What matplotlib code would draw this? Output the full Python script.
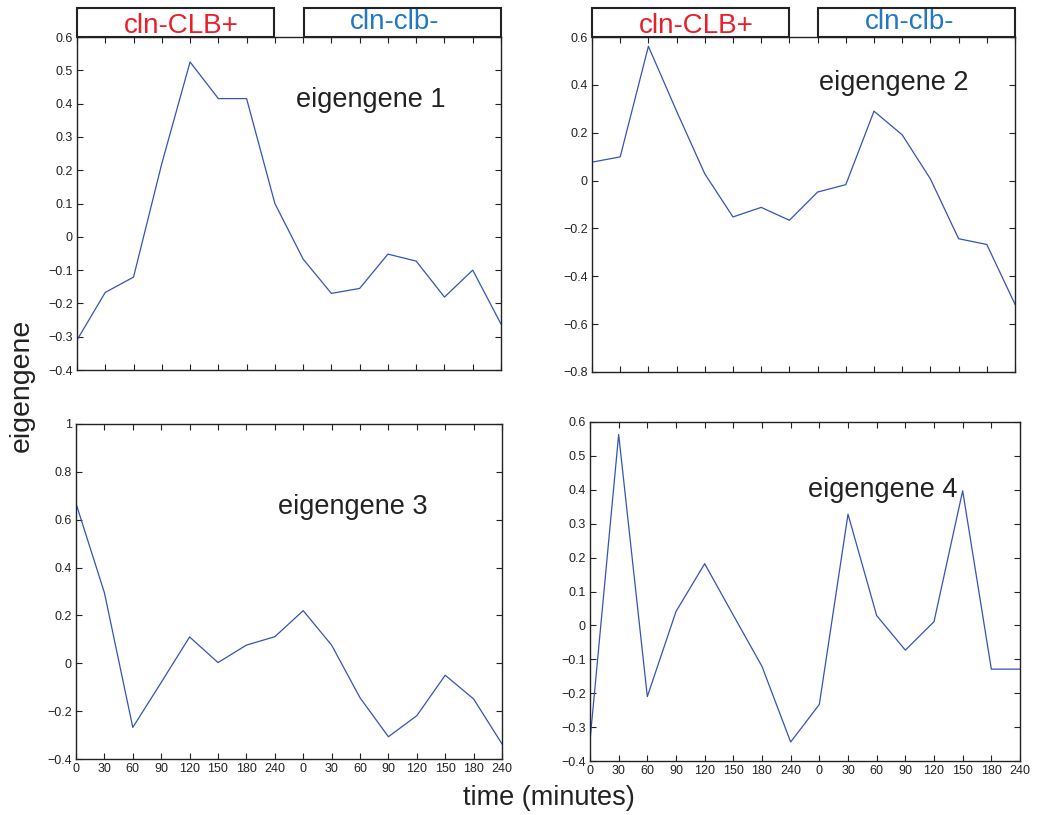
import matplotlib.pyplot as plt
from matplotlib.patches import Rectangle
import numpy as np

plt.rcParams['font.family'] = ['Liberation Sans', 'DejaVu Sans']

# time points: two series of 8 samples each
time_labels = ['0', '30', '60', '90', '120', '150', '180', '240'] * 2

eig1 = [-0.31, -0.167, -0.121, 0.22, 0.525, 0.415, 0.415, 0.10,
        -0.067, -0.17, -0.155, -0.052, -0.073, -0.181, -0.10, -0.262]
eig2 = [0.077, 0.099, 0.561, 0.29, 0.028, -0.152, -0.112, -0.166,
        -0.048, -0.017, 0.29, 0.191, 0.007, -0.243, -0.267, -0.517]
eig3 = [0.668, 0.295, -0.268, -0.08, 0.11, 0.003, 0.076, 0.111,
        0.22, 0.076, -0.144, -0.307, -0.219, -0.05, -0.149, -0.337]
eig4 = [-0.34, 0.563, -0.21, 0.041, 0.182, 0.03, -0.121, -0.344,
        -0.233, 0.328, 0.029, -0.073, 0.011, 0.397, -0.129, -0.129]

series = [eig1, eig2, eig3, eig4]
names = ['eigengene 1', 'eigengene 2', 'eigengene 3', 'eigengene 4']
ylims = [(-0.4, 0.6), (-0.8, 0.6), (-0.4, 1.0), (-0.4, 0.6)]
ysteps = [0.1, 0.2, 0.2, 0.1]
label_pos = [(7.75, 0.41), (8.05, 0.408), (7.1, 0.653), (7.6, 0.40)]

# axes rectangles in figure fraction (W=1038, H=815 px)
W, H = 1038.0, 815.0
rects = [(77, 37, 501, 370), (592, 37, 1015, 372),
         (76, 424, 502, 759), (590, 422, 1020, 761)]

LINE = '#3454b6'
RED = '#e8202a'
BLUE = '#2378c3'

fig = plt.figure(figsize=(W / 100, H / 100), dpi=100)
x = np.arange(len(time_labels))

for i in range(4):
    l, t, r, b = rects[i]
    ax = fig.add_axes([l / W, 1 - b / H, (r - l) / W, (b - t) / H])
    ax.plot(x, series[i], color=LINE, lw=0.9)
    ax.set_xlim(0, len(x) - 1)
    ax.set_ylim(*ylims[i])
    lo, hi = ylims[i]
    yt = np.round(np.arange(lo, hi + 1e-9, ysteps[i]), 2)
    ax.set_yticks(yt)
    ax.set_yticklabels(['0' if v == 0 else ('%g' % v).replace('-', '\u2212') for v in yt])
    ax.set_xticks(x)
    if i >= 2:
        ax.set_xticklabels(time_labels)
    else:
        ax.set_xticklabels([])
    ax.tick_params(direction='in', top=True, right=True, length=4, width=0.8,
                   labelsize=9, colors='#222222', pad=3)
    for s in ax.spines.values():
        s.set_linewidth(1.0)
        s.set_color('#222222')
    ax.text(label_pos[i][0], label_pos[i][1], names[i], fontsize=19.5,
            va='center', ha='left', color='#222222')

    if i < 2:
        # condition boxes above the top panels
        bh = 0.088
        ax.add_patch(Rectangle((0, 1), 0.465, bh, transform=ax.transAxes,
                               fill=False, lw=1.5, ec='#222222', clip_on=False))
        ax.add_patch(Rectangle((0.535, 1), 0.465, bh, transform=ax.transAxes,
                               fill=False, lw=1.5, ec='#222222', clip_on=False))
        ax.text(0.247, 1.013, 'cln-CLB+', transform=ax.transAxes, color=RED,
                fontsize=20, ha='center', va='baseline')
        ax.text(0.75, 1.025, 'cln-clb-', transform=ax.transAxes, color=BLUE,
                fontsize=20, ha='center', va='baseline')

fig.text(22 / W, 1 - 385 / H, 'eigengene', rotation=90, fontsize=20.5,
         ha='center', va='center', color='#222222')
fig.text(549 / W, 1 - 798 / H, 'time (minutes)', fontsize=19.5,
         ha='center', va='center', color='#222222')

fig.savefig('out.png', dpi=100)
